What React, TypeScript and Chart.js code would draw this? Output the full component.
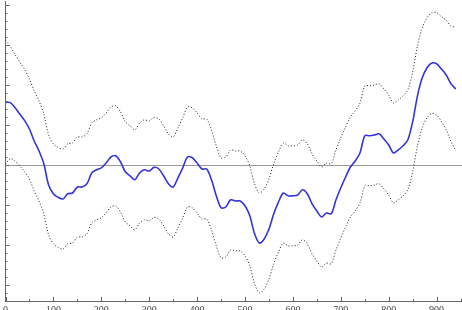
import React, { useEffect, useRef } from "react";
import { Chart, registerables } from "chart.js";

Chart.register(...registerables);

// x positions of the samples (data units)
const xValues: number[] = Array.from({ length: 95 }, (_, i) => i * 10);

// central estimate (blue)
const estimate: number[] = [
  1.58, 1.57, 1.44, 1.28, 1.12, 0.91, 0.61, 0.36, 0.04, -0.49,
  -0.71, -0.8, -0.84, -0.71, -0.69, -0.54, -0.54, -0.46, -0.19, -0.11,
  -0.06, 0.06, 0.21, 0.24, 0.09, -0.16, -0.26, -0.36, -0.19, -0.11,
  -0.14, -0.05, -0.09, -0.26, -0.46, -0.54, -0.31, -0.06, 0.21, 0.19,
  0.06, -0.09, -0.09, -0.36, -0.76, -1.06, -1.04, -0.86, -0.89, -0.89,
  -1.01, -1.26, -1.71, -1.94, -1.84, -1.59, -1.21, -0.91, -0.69, -0.76,
  -0.76, -0.74, -0.61, -0.71, -0.96, -1.14, -1.29, -1.19, -1.21, -0.86,
  -0.56, -0.29, -0.04, 0.11, 0.31, 0.74, 0.74, 0.76, 0.79, 0.66,
  0.51, 0.31, 0.39, 0.49, 0.64, 1.09, 1.74, 2.19, 2.44, 2.56,
  2.54, 2.41, 2.26, 2.04, 1.91,
];

// upper band (dotted)
const upperBand: number[] = [
  3.13, 2.97, 2.77, 2.58, 2.4, 2.16, 1.86, 1.61, 1.29, 0.76,
  0.54, 0.45, 0.41, 0.54, 0.56, 0.71, 0.71, 0.79, 1.06, 1.14,
  1.19, 1.31, 1.46, 1.49, 1.34, 1.09, 0.99, 0.89, 1.06, 1.14,
  1.11, 1.2, 1.16, 0.99, 0.79, 0.71, 0.94, 1.19, 1.46, 1.44,
  1.31, 1.16, 1.16, 0.89, 0.49, 0.19, 0.21, 0.39, 0.36, 0.36,
  0.24, -0.01, -0.46, -0.69, -0.59, -0.34, 0.04, 0.34, 0.56, 0.49,
  0.49, 0.51, 0.64, 0.54, 0.29, 0.11, -0.04, 0.06, 0.04, 0.39,
  0.69, 0.96, 1.21, 1.36, 1.56, 1.99, 1.99, 2.01, 2.04, 1.91,
  1.76, 1.56, 1.64, 1.74, 1.89, 2.34, 2.99, 3.44, 3.69, 3.82,
  3.82, 3.72, 3.63, 3.48, 3.46,
];

// lower band (dotted)
const lowerBand: number[] = [
  0.03, 0.17, 0.11, -0.02, -0.16, -0.34, -0.64, -0.89, -1.21, -1.74,
  -1.96, -2.05, -2.09, -1.96, -1.94, -1.79, -1.79, -1.71, -1.44, -1.36,
  -1.31, -1.19, -1.04, -1.01, -1.16, -1.41, -1.51, -1.61, -1.44, -1.36,
  -1.39, -1.3, -1.34, -1.51, -1.71, -1.79, -1.56, -1.31, -1.04, -1.06,
  -1.19, -1.34, -1.34, -1.61, -2.01, -2.31, -2.29, -2.11, -2.14, -2.14,
  -2.26, -2.51, -2.96, -3.19, -3.09, -2.84, -2.46, -2.16, -1.94, -2.01,
  -2.01, -1.99, -1.86, -1.96, -2.21, -2.39, -2.54, -2.44, -2.46, -2.11,
  -1.81, -1.54, -1.29, -1.14, -0.94, -0.51, -0.51, -0.49, -0.46, -0.59,
  -0.74, -0.94, -0.86, -0.76, -0.61, -0.16, 0.49, 0.94, 1.19, 1.3,
  1.26, 1.1, 0.89, 0.6, 0.36,
];

// frame tick positions
const xTickValues: number[] = Array.from({ length: 20 }, (_, i) => i * 50);
const yTickValues: number[] = Array.from({ length: 37 }, (_, i) => Math.round((-3.2 + i * 0.2) * 10) / 10);

const X_MIN = 0;
const X_MAX = 953;
const Y_MIN = -3.39;
const Y_MAX = 4.11;

const toPoints = (ys: number[]) => ys.map((y, i) => ({ x: xValues[i], y }));

const framePlugin = {
  id: "frameTicks",
  beforeDatasetsDraw(chart: any) {
    const { ctx, chartArea } = chart;
    const ys = chart.scales.y;
    const y0 = Math.round(ys.getPixelForValue(0)) + 0.5;
    ctx.save();
    ctx.strokeStyle = "#9a9a9a";
    ctx.lineWidth = 1;
    ctx.beginPath();
    ctx.moveTo(chartArea.left, y0);
    ctx.lineTo(chartArea.right, y0);
    ctx.stroke();
    ctx.restore();
  },
  afterDraw(chart: any) {
    const { ctx, chartArea } = chart;
    const xs = chart.scales.x;
    const ys = chart.scales.y;
    ctx.save();
    ctx.strokeStyle = "#666";
    ctx.lineWidth = 1;
    ctx.beginPath();
    for (const v of xTickValues) {
      const x = Math.round(xs.getPixelForValue(v)) + 0.5;
      const len = v % 100 === 0 ? 4 : 2;
      ctx.moveTo(x, chartArea.bottom);
      ctx.lineTo(x, chartArea.bottom - len);
    }
    for (const v of yTickValues) {
      const y = Math.round(ys.getPixelForValue(v)) + 0.5;
      const major = Math.abs(v - Math.round(v)) < 1e-6;
      const len = major ? 4 : 2;
      ctx.moveTo(chartArea.left, y);
      ctx.lineTo(chartArea.left + len, y);
    }
    ctx.stroke();
    ctx.restore();
  },
};

export default function App() {
  const canvasRef = useRef<HTMLCanvasElement | null>(null);

  useEffect(() => {
    document.body.style.margin = "0";
    const canvas = canvasRef.current;
    if (!canvas) return;
    const chart = new Chart(canvas, {
      type: "line",
      data: {
        datasets: [
          {
            label: "upper",
            data: toPoints(upperBand),
            borderColor: "#222",
            borderWidth: 1,
            borderDash: [1, 2],
            pointRadius: 0,
            tension: 0.3,
            fill: false,
          },
          {
            label: "lower",
            data: toPoints(lowerBand),
            borderColor: "#222",
            borderWidth: 1,
            borderDash: [1, 2],
            pointRadius: 0,
            tension: 0.3,
            fill: false,
          },
          {
            label: "estimate",
            data: toPoints(estimate),
            borderColor: "#3434dc",
            borderWidth: 1.6,
            pointRadius: 0,
            tension: 0.3,
            fill: false,
          },
        ],
      },
      options: {
        animation: false,
        responsive: false,
        devicePixelRatio: 1,
        layout: { padding: { left: 2, top: 1, right: 0, bottom: 0 } },
        plugins: { legend: { display: false }, tooltip: { enabled: false } },
        scales: {
          x: {
            type: "linear",
            min: X_MIN,
            max: X_MAX,
            grid: { display: false, drawTicks: false },
            border: { display: true, color: "#666", width: 1 },
            ticks: {
              stepSize: 100,
              includeBounds: false,
              maxRotation: 0,
              autoSkip: false,
              padding: 3,
              color: "#444",
              font: { family: "'Liberation Serif', 'DejaVu Serif', serif", size: 10 },
            },
            afterFit: (scale: any) => {
              scale.height = 9;
            },
          },
          y: {
            type: "linear",
            min: Y_MIN,
            max: Y_MAX,
            grid: { display: false, drawTicks: false },
            border: { display: true, color: "#666", width: 1 },
            ticks: { display: false },
            afterFit: (scale: any) => {
              scale.width = 0;
            },
          },
        },
      },
      plugins: [framePlugin],
    });
    return () => chart.destroy();
  }, []);

  return (
    <div style={{ position: "fixed", left: 0, top: 0, width: 462, height: 310, overflow: "hidden", background: "#fff" }}>
      <canvas ref={canvasRef} width={462} height={310} style={{ display: "block" }} />
    </div>
  );
}
